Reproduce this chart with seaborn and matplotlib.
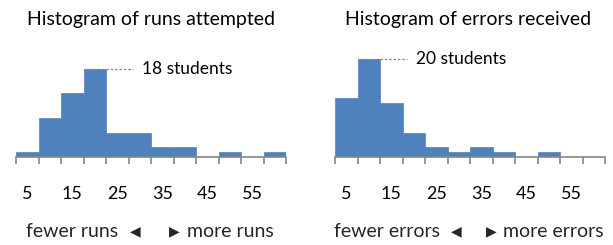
import matplotlib
matplotlib.use("Agg")
import matplotlib.pyplot as plt
import seaborn as sns
import numpy as np
import pandas as pd

# ---- data ----
bin_labels = ["5", "10", "15", "20", "25", "30", "35", "40", "45", "50", "55", "60"]
runs_counts = [1, 8, 13, 18, 5, 5, 2, 2, 0, 1, 0, 1]
errors_counts = [12, 20, 11, 5, 2, 1, 2, 1, 0, 1, 0, 0]
titles = ["Histogram of runs attempted", "Histogram of errors received"]
left_texts = ["fewer runs", "fewer errors"]
right_texts = ["more runs", "more errors"]

sns.set_theme(style="white")
plt.rcParams["font.family"] = ["Lato", "DejaVu Sans"]

BLUE = "#4F81BD"
GRAY = "#868686"

fig = plt.figure(figsize=(6.13, 2.45), dpi=100)
W, H = 613.0, 245.0

specs = [
    dict(left=16, counts=runs_counts, title=titles[0], lt=left_texts[0], rt=right_texts[0],
         tcx=151, la=(118, 135), ra=(174, 187)),
    dict(left=335, counts=errors_counts, title=titles[1], lt=left_texts[1], rt=right_texts[1],
         tcx=468, la=(440, 456), ra=(491, 503)),
]

bottom_px = 157
top_px = 59.2
for s in specs:
    ax = fig.add_axes([s["left"] / W, 1 - bottom_px / H, 270 / W, (bottom_px - top_px) / H])
    df = pd.DataFrame({"bin": bin_labels, "count": s["counts"]})
    sns.barplot(data=df, x="bin", y="count", order=bin_labels, ax=ax, color=BLUE,
                saturation=1, width=1, edgecolor=BLUE, linewidth=0.5)
    n = len(bin_labels)
    ax.set_xlim(-0.5, n - 0.5)
    ax.set_ylim(0, 20)
    for sp in ["top", "right", "left"]:
        ax.spines[sp].set_visible(False)
    ax.spines["bottom"].set_color(GRAY)
    ax.spines["bottom"].set_linewidth(1.2)
    ax.set_yticks([])
    ax.set_xlabel("")
    ax.set_ylabel("")
    # major ticks at bin edges (no labels)
    ax.set_xticks(np.arange(-0.5, n, 1.0))
    ax.set_xticklabels([])
    ax.tick_params(axis="x", which="major", direction="out", length=5, width=1.2,
                   color=GRAY, bottom=True)
    # minor ticks at every other bin centre, labelled
    centers = np.arange(0, n, 2)
    ax.set_xticks(centers, minor=True)
    ax.set_xticklabels([bin_labels[i] for i in centers], minor=True)
    ax.tick_params(axis="x", which="minor", length=0, pad=21, labelsize=13,
                   labelcolor="black")

    counts = np.array(s["counts"])
    idx = int(np.argmax(counts))
    mx = counts[idx]
    ax.plot([idx - 0.5, idx + 1.7], [mx, mx], ls=(0, (2, 1.5)), color=GRAY, lw=0.9,
            clip_on=False)
    ax.text(idx + 2.1, mx, f"{mx} students", ha="left", va="center", fontsize=12.5,
            color="black", clip_on=False)

    fig.text(s["tcx"] / W, 1 - 19 / H, s["title"], ha="center", va="center",
             fontsize=14, color="black")
    yb = 1 - 231 / H
    fig.text(s["la"][0] / W, yb, s["lt"], ha="right", va="center", fontsize=14)
    fig.text(s["la"][1] / W, yb, "\u25C0", ha="center", va="center", fontsize=10,
             family=["DejaVu Sans"])
    fig.text(s["ra"][0] / W, yb, "\u25B6", ha="center", va="center", fontsize=10,
             family=["DejaVu Sans"])
    fig.text(s["ra"][1] / W, yb, s["rt"], ha="left", va="center", fontsize=14)

fig.savefig("out.png", dpi=100)
